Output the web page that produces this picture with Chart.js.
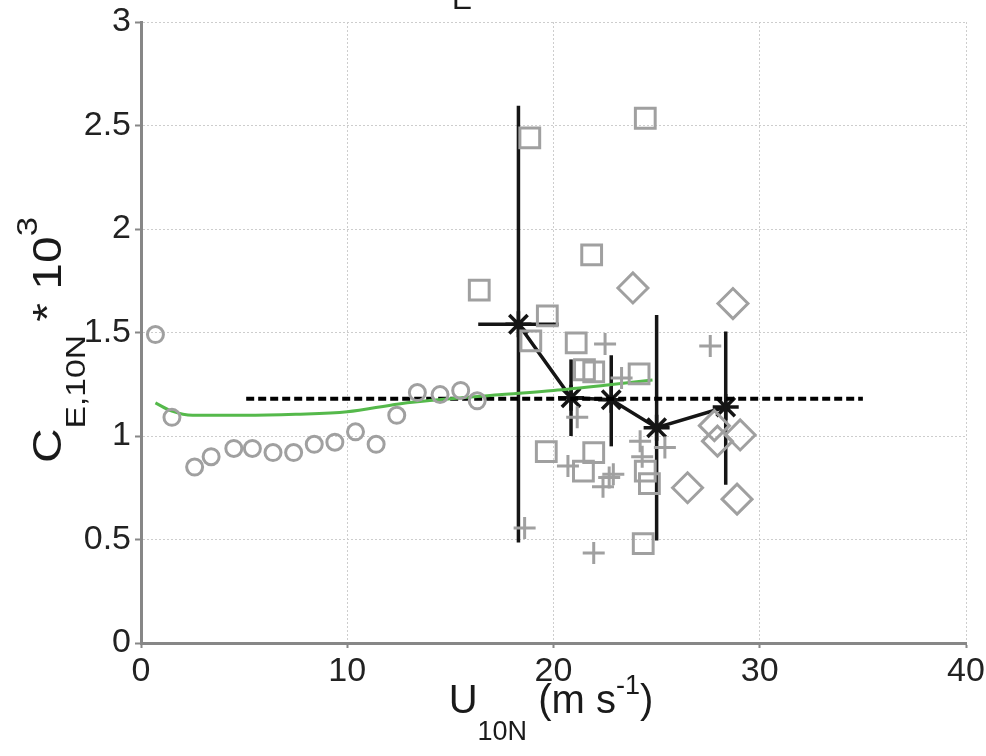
<!DOCTYPE html>
<html><head><meta charset="utf-8">
<script src="https://cdn.jsdelivr.net/npm/chart.js@4/dist/chart.umd.min.js"></script>
<style>html,body{margin:0;padding:0;background:#fff}#wrap{width:986px;height:756px;position:relative}</style>
</head><body><div id="wrap"><canvas id="c" width="986" height="756"></canvas></div>
<script>
// ---- data ----
const xTickValues = [0, 10, 20, 30, 40];
const yTickValues = [0, 0.5, 1, 1.5, 2, 2.5, 3];

const circleX = [0.7, 1.5, 2.6, 3.4, 4.5, 5.4, 6.4, 7.4, 8.4, 9.4, 10.4, 11.4, 12.4, 13.4, 14.5, 15.5, 16.3];
const circleY = [1.49, 1.09, 0.85, 0.90, 0.94, 0.94, 0.92, 0.92, 0.96, 0.97, 1.02, 0.96, 1.10, 1.21, 1.20, 1.22, 1.17];

const squareX = [16.4, 18.85, 18.9, 19.7, 21.85, 24.45, 21.1, 21.5, 21.95, 24.15, 19.65, 21.95, 21.45, 24.35, 24.65, 24.45];
const squareY = [1.705, 2.44, 1.46, 1.58, 1.875, 2.535, 1.45, 1.32, 1.31, 1.30, 0.925, 0.92, 0.83, 0.48, 0.77, 0.83];

const crossX = [18.6, 21.95, 22.5, 21.15, 20.7, 22.4, 22.9, 24.2, 25.4, 27.6, 23.3, 24.3, 22.7];
const crossY = [0.555, 0.435, 1.445, 1.09, 0.855, 0.755, 0.815, 0.975, 0.945, 1.435, 1.28, 0.90, 0.80];

const diamondX = [23.85, 28.7, 27.8, 27.95, 29.05, 26.5, 28.9];
const diamondY = [1.715, 1.64, 1.05, 0.975, 1.005, 0.75, 0.695];

const greenX = [0.7, 1.5, 2.5, 5, 7.5, 10, 12.5, 15, 17.5, 20, 22.5, 24.8];
const greenY = [1.16, 1.12, 1.10, 1.10, 1.105, 1.117, 1.155, 1.18, 1.20, 1.22, 1.245, 1.27];

const meanLineX = [5.1, 35];
const meanLineY = [1.18, 1.18];

const binX = [18.3, 20.85, 22.8, 25.0, 28.35];
const binY = [1.54, 1.185, 1.175, 1.04, 1.14];
const binLo = [0.485, 1.0, 0.95, 0.495, 0.765];
const binHi = [2.595, 1.37, 1.39, 1.585, 1.505];
const binXLo = [16.35];
const binXHi = [20.25];

// ---- build ----
const pts = (xs, ys) => xs.map((x, i) => ({x, y: ys[i]}));
const GRAY = 'rgb(160,160,160)';
const INK = '#151515';

const datasets = [
  {data: pts(circleX, circleY), showLine: false, pointStyle: 'circle', pointRadius: 8, borderColor: GRAY, backgroundColor: 'rgba(0,0,0,0)', borderWidth: 3},
  {data: pts(squareX, squareY), showLine: false, pointStyle: 'rect', pointRadius: 14, borderColor: GRAY, backgroundColor: 'rgba(0,0,0,0)', borderWidth: 3},
  {data: pts(crossX, crossY), showLine: false, pointStyle: 'cross', pointRadius: 11, borderColor: GRAY, backgroundColor: 'rgba(0,0,0,0)', borderWidth: 3},
  {data: pts(diamondX, diamondY), showLine: false, pointStyle: 'rectRot', pointRadius: 15, borderColor: GRAY, backgroundColor: 'rgba(0,0,0,0)', borderWidth: 3},
  {data: pts(greenX, greenY), showLine: true, pointRadius: 0, borderColor: 'rgb(85,185,75)', borderWidth: 3, tension: 0.3, cubicInterpolationMode: 'monotone'},
  {data: pts(meanLineX, meanLineY), showLine: true, pointRadius: 0, borderColor: '#000', borderWidth: 4, borderDash: [8, 4]}
];
binX.forEach((x, i) => {
  datasets.push({data: [{x, y: binLo[i]}, {x, y: binHi[i]}], showLine: true, pointRadius: 0, borderColor: INK, borderWidth: 3.5});
});
binXLo.forEach((lo, i) => {
  datasets.push({data: [{x: lo, y: binY[i]}, {x: binXHi[i], y: binY[i]}], showLine: true, pointRadius: 0, borderColor: INK, borderWidth: 3.5});
});
datasets.push({data: pts(binX, binY), showLine: true, pointStyle: 'star', pointRadius: 13, borderColor: INK, backgroundColor: INK, borderWidth: 3.5, pointBorderWidth: 3.5});

const FONT = '"Liberation Sans", Arial, sans-serif';
function drawParts(ctx, parts, cx, cy) {
  let total = 0;
  parts.forEach(p => { ctx.font = p.f + 'px ' + FONT; p.w = ctx.measureText(p.t).width; total += p.w; });
  let x = cx - total / 2;
  ctx.textAlign = 'left';
  parts.forEach(p => { ctx.font = p.f + 'px ' + FONT; ctx.fillText(p.t, x, cy + p.dy); x += p.w; });
}
const titlePlugin = {
  id: 'titles',
  afterDraw(chart) {
    const ctx = chart.ctx;
    ctx.save();
    ctx.fillStyle = '#1a1a1a';
    ctx.textBaseline = 'alphabetic';
    drawParts(ctx, [
      {t: 'U', f: 40, dy: 0},
      {t: '10N', f: 27, dy: 27},
      {t: ' (m s', f: 40, dy: 0},
      {t: '-1', f: 27, dy: -19},
      {t: ')', f: 40, dy: 0}
    ], 551, 713);
    ctx.restore();

    ctx.save();
    ctx.fillStyle = '#1a1a1a';
    ctx.textBaseline = 'alphabetic';
    ctx.translate(61, 340);
    ctx.rotate(-Math.PI / 2);
    ctx.scale(1.2, 1);
    drawParts(ctx, [
      {t: 'C', f: 40, dy: 0},
      {t: 'E,10N', f: 28, dy: 24},
      {t: ' * 10', f: 40, dy: 0},
      {t: '3', f: 29, dy: -24}
    ], 0, 0);
    ctx.restore();

    ctx.save();
    ctx.fillStyle = '#1a1a1a';
    ctx.font = '30px ' + FONT;
    ctx.textAlign = 'center';
    ctx.fillText('E', 462, 9);
    ctx.restore();
  }
};

new Chart(document.getElementById('c'), {
  type: 'scatter',
  data: {datasets},
  options: {
    responsive: false,
    animation: false,
    events: [],
    layout: {padding: {left: 0, right: 20, top: 22, bottom: 0}},
    plugins: {legend: {display: false}, tooltip: {enabled: false}},
    scales: {
      x: {
        type: 'linear', min: 0, max: 40,
        afterFit(s) { s.height = 113; s.paddingLeft = 0; s.paddingRight = 0; },
        afterBuildTicks(s) { s.ticks = xTickValues.map(v => ({value: v})); },
        grid: {color: 'rgb(205,205,205)', lineWidth: 1, drawTicks: true, tickLength: 5, tickColor: 'rgb(135,135,135)', tickWidth: 2},
        border: {color: 'rgb(135,135,135)', width: 3, dash: [2, 2]},
        ticks: {color: '#222', font: {family: FONT, size: 34}, padding: 3, maxRotation: 0, callback: v => String(v)}
      },
      y: {
        type: 'linear', min: 0, max: 3,
        afterFit(s) { s.width = 141; s.paddingTop = 0; s.paddingBottom = 0; },
        afterBuildTicks(s) { s.ticks = yTickValues.map(v => ({value: v})); },
        grid: {color: 'rgb(205,205,205)', lineWidth: 1, drawTicks: true, tickLength: 6, tickColor: 'rgb(135,135,135)', tickWidth: 2},
        border: {color: 'rgb(135,135,135)', width: 3, dash: [2, 2]},
        ticks: {color: '#222', font: {family: FONT, size: 34}, padding: 4, callback: v => String(v)}
      }
    }
  },
  plugins: [titlePlugin]
});
</script></body></html>
